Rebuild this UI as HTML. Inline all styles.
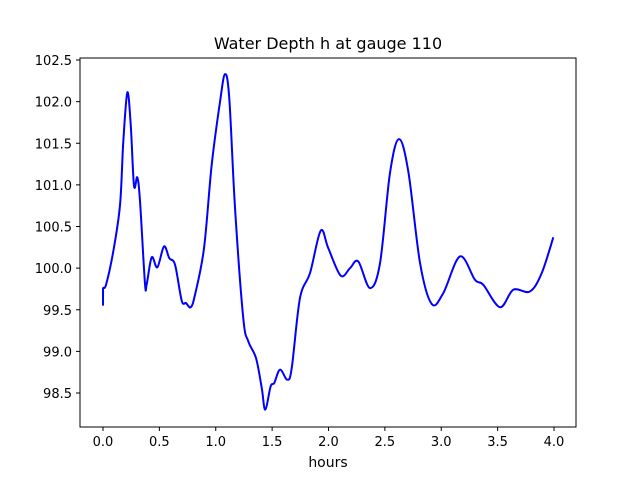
<!DOCTYPE html>
<html><head><meta charset="utf-8"><style>body{margin:0;background:#fff}svg{display:block;font-family:"DejaVu Sans","Liberation Sans",sans-serif}</style></head>
<body>
<svg id="chart" width="640" height="480" xmlns="http://www.w3.org/2000/svg">
<rect width="640" height="480" fill="#fff"/>
<text x="328" y="49" font-size="16" text-anchor="middle">Water Depth h at gauge 110</text>
<text x="328" y="467" font-size="14" text-anchor="middle">hours</text>
<g id="ticks"></g>
<path id="line" fill="none" stroke="#0000ff" stroke-width="2" stroke-linejoin="round"/>
<rect x="80" y="58" width="496" height="369" fill="none" stroke="#000" stroke-width="1"/>
</svg>
<script>
const hours=[0,0,0.027,0.091,0.151,0.180,0.216,0.246,0.275,0.304,0.328,0.372,0.388,0.432,0.482,0.541,0.588,0.639,0.698,0.736,0.778,0.816,0.896,0.964,1.038,1.082,1.120,1.171,1.244,1.289,1.357,1.408,1.439,1.487,1.519,1.570,1.635,1.674,1.747,1.836,1.931,1.998,2.108,2.191,2.264,2.368,2.457,2.545,2.625,2.708,2.812,2.915,3.018,3.166,3.299,3.373,3.521,3.639,3.787,3.891,3.994];
const depth=[99.55,99.75,99.80,100.20,100.76,101.52,102.11,101.72,100.99,101.09,100.81,99.82,99.81,100.13,100.01,100.26,100.12,100.04,99.61,99.58,99.53,99.68,100.24,101.24,102.00,102.33,102.04,100.72,99.40,99.12,98.92,98.56,98.30,98.58,98.62,98.78,98.66,98.80,99.64,99.94,100.45,100.24,99.91,100.00,100.08,99.76,100.06,101.14,101.55,101.16,100.06,99.57,99.70,100.14,99.86,99.80,99.53,99.74,99.72,99.94,100.37];
const xTicks=["0.0","0.5","1.0","1.5","2.0","2.5","3.0","3.5","4.0"];
const yTicks=["98.5","99.0","99.5","100.0","100.5","101.0","101.5","102.0","102.5"];
const NS="http://www.w3.org/2000/svg";
const X=v=>103+v*112.75;
const Y=v=>60+(102.5-v)*83.25;
const g=document.getElementById('ticks');
function mk(tag,attrs,txt){const e=document.createElementNS(NS,tag);for(const k in attrs)e.setAttribute(k,attrs[k]);if(txt)e.textContent=txt;g.appendChild(e);return e;}
xTicks.forEach(t=>{const x=X(parseFloat(t));
 const l=mk('line',{x1:x,x2:x,y1:427,y2:431,stroke:'#000'});
 
 
 const s=mk('text',{x:x,y:446,'font-size':'13','text-anchor':'middle'},t);
 
 
});
yTicks.forEach(t=>{const y=Y(parseFloat(t));
 const l=mk('line',{x1:76,x2:80,y1:y,y2:y,stroke:'#000'});
 
 
 const s=mk('text',{x:72,y:y+5,'font-size':'13','text-anchor':'end'},t);
 
 
});
const P=hours.map((h,i)=>[X(h),Y(depth[i])]);
let d='M'+P[0][0]+','+P[0][1];
for(let i=0;i<P.length-1;i++){
 const p0=P[Math.max(0,i-1)],p1=P[i],p2=P[i+1],p3=P[Math.min(P.length-1,i+2)];
 const c1=[p1[0]+(p2[0]-p0[0])/6,p1[1]+(p2[1]-p0[1])/6];
 const c2=[p2[0]-(p3[0]-p1[0])/6,p2[1]-(p3[1]-p1[1])/6];
 if(i===0){d+=' L'+p2[0]+','+p2[1];continue;}
 d+=' C'+c1.join(',')+' '+c2.join(',')+' '+p2.join(',');
}
document.getElementById('line').setAttribute('d',d);
</script>
</body></html>
